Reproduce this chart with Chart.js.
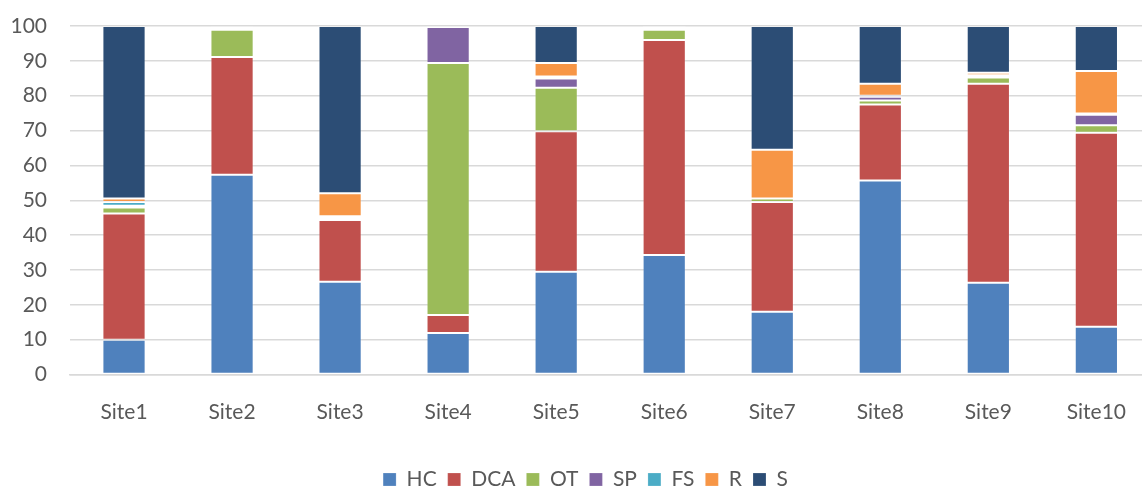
<!DOCTYPE html>
<html>
<head>
<meta charset="utf-8">
<script src="https://cdn.jsdelivr.net/npm/chart.js@4.4.1/dist/chart.umd.min.js"></script>
<style>
    html, body { margin: 0; padding: 0; background: #fff; overflow: hidden; }
    .chart-wrap { width: 1142px; height: 487px; overflow: hidden; position: relative; }
    .chart-wrap canvas { position: absolute; left: 0; top: 0; }
</style>
</head>
<body>
<div class="chart-wrap">
    <canvas id="siteChart" width="1151" height="500" style="width:1151px;height:500px"></canvas>
</div>
<script>
const sites = ['Site1', 'Site2', 'Site3', 'Site4', 'Site5', 'Site6', 'Site7', 'Site8', 'Site9', 'Site10'];
const yTicks = [0, 10, 20, 30, 40, 50, 60, 70, 80, 90, 100];

const HC  = [10.0, 57.3, 26.6, 11.9, 29.5, 34.3, 18.0, 55.7, 26.3, 13.7];
const DCA = [36.2, 33.8, 17.7,  5.2, 40.3, 61.7, 31.5, 21.8, 57.1, 55.7];
const OT  = [ 1.7,  7.8,  0.5, 72.3, 12.5,  2.9,  1.0,  1.1,  1.8,  2.1];
const SP  = [ 0.5,  0.6,  0.5, 10.3,  2.6,  0.1,  0.0,  1.1,  0.2,  3.0];
const FS  = [ 1.1,  0.0,  0.1,  0.3,  0.6,  0.0,  0.0,  0.3,  0.5,  0.4];
const R   = [ 1.0,  0.3,  6.6,  0.0,  3.9,  0.6, 14.0,  3.4,  0.7, 12.2];
const S   = [49.5,  0.2, 48.0,  0.0, 10.6,  0.4, 35.5, 16.6, 13.4, 12.9];

const series = [
    { label: 'HC',  data: HC,  color: '#4f81bd' },
    { label: 'DCA', data: DCA, color: '#c0504d' },
    { label: 'OT',  data: OT,  color: '#9bbb59' },
    { label: 'SP',  data: SP,  color: '#8064a2' },
    { label: 'FS',  data: FS,  color: '#4bacc6' },
    { label: 'R',   data: R,   color: '#f79646' },
    { label: 'S',   data: S,   color: '#2c4d75' }
];

const textColor = '#595959';
const fontFamily = 'Lato, "Open Sans", sans-serif';

// the original chart is cropped on the right, so its legend sits a bit right of our centre
const legendShift = {
    id: 'legendShift',
    afterLayout(chart) {
        chart.legend.left += 10;
        chart.legend.right += 10;
    }
};

const ctx = document.getElementById('siteChart').getContext('2d');
new Chart(ctx, {
    type: 'bar',
    data: {
        labels: sites,
        datasets: series.map(s => ({
            label: s.label,
            data: s.data,
            backgroundColor: s.color,
            // thin light edge like the original, none on empty segments
            borderColor: s.data.map(v => v > 0 ? 'rgba(255,255,255,0.2)' : 'rgba(0,0,0,0)'),
            borderWidth: 1,
            borderSkipped: false,
            barPercentage: 0.4,
            categoryPercentage: 1.0
        }))
    },
    options: {
        responsive: false,
        animation: false,
        layout: { padding: { top: 26, left: 0, right: 0, bottom: 0 } },
        scales: {
            x: {
                stacked: true,
                grid: { display: false, drawTicks: false },
                border: { display: true, color: '#d9d9d9', width: 1.5 },
                ticks: { color: textColor, font: { family: fontFamily, size: 21 }, padding: 25 },
                afterFit: scale => { scale.height = 83.5; }
            },
            y: {
                stacked: true,
                min: 0,
                max: 100,
                afterBuildTicks: scale => { scale.ticks = yTicks.map(v => ({ value: v })); },
                grid: { color: '#d9d9d9', lineWidth: 1.5, drawTicks: false },
                border: { display: false },
                ticks: { color: textColor, font: { family: fontFamily, size: 21 }, padding: 23 },
                afterFit: scale => {
                    scale.width = 70;
                    scale.paddingTop = 0;
                    scale.paddingBottom = 0;
                }
            }
        },
        plugins: {
            tooltip: { enabled: false },
            legend: {
                position: 'bottom',
                labels: {
                    color: textColor,
                    font: { family: fontFamily, size: 21 },
                    boxWidth: 13,
                    boxHeight: 13,
                    padding: 11
                }
            }
        }
    },
    plugins: [legendShift]
});
</script>
</body>
</html>
